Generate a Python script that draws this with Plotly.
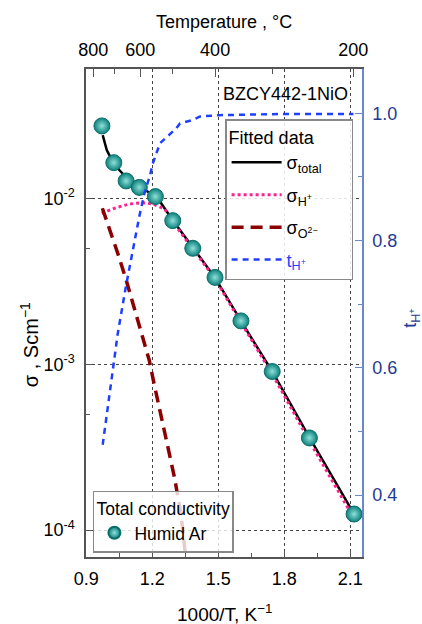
import plotly.graph_objects as go

# ---- measured data (Humid Ar, total conductivity) ----
x_data = [0.971, 1.025, 1.081, 1.141, 1.214, 1.293, 1.384, 1.485, 1.603, 1.745, 1.914, 2.117]
sigma_data = [2.75e-2, 1.65e-2, 1.28e-2, 1.17e-2, 1.03e-2, 7.37e-3, 5.02e-3, 3.35e-3,
              1.83e-3, 9.06e-4, 3.60e-4, 1.25e-4]

# ---- fitted curves ----
x_total = [0.9745, 0.993, 1.02, 1.05, 1.081, 1.126, 1.18, 1.226, 1.293, 1.384, 1.485,
           1.603, 1.745, 1.914, 2.117]
sigma_total = [0.02421, 0.01968, 0.01671, 0.01489, 0.01346, 0.01211, 0.01101, 0.01000,
               0.00741, 0.00507, 0.00334, 0.00183, 0.000906, 0.000363, 0.000125]

x_h = [0.970, 1.035, 1.096, 1.157, 1.203, 1.256, 1.293, 1.384, 1.485, 1.603, 1.745, 1.914, 2.117]
sigma_h = [0.00817, 0.00883, 0.00929, 0.00946, 0.00929, 0.00867, 0.00724, 0.00495,
           0.00329, 0.00179, 0.000875, 0.000345, 0.0001175]

x_o = [0.973, 0.997, 1.043, 1.081, 1.118, 1.156, 1.186, 1.206, 1.2245, 1.262, 1.300, 1.330, 1.353]
sigma_o = [0.00875, 0.00711, 0.00468, 0.00324, 0.00219, 0.00147, 0.00106, 0.000787,
           0.000610, 0.000366, 0.000210, 0.000126, 0.0000668]

x_t = [0.9745, 0.9895, 1.012, 1.043, 1.08, 1.111, 1.141, 1.164, 1.19, 1.202, 1.235, 1.308,
       1.326, 1.384, 1.417, 1.504, 1.6, 1.8, 2.0, 2.114]
t_h = [0.479, 0.518, 0.576, 0.654, 0.728, 0.785, 0.838, 0.874, 0.903, 0.921, 0.953, 0.976,
       0.984, 0.9895, 0.995, 0.997, 0.998, 0.999, 0.999, 0.999]

# ---- axis ticks ----
x_ticks = [0.9, 1.2, 1.5, 1.8, 2.1]
x_minor = [1.05, 1.35, 1.65, 1.95]
sigma_ticks = [1e-4, 1e-3, 1e-2]
sigma_ticktext = ["10<sup>-4</sup>", "10<sup>-3</sup>", "10<sup>-2</sup>"]
sigma_minor = [5e-4, 5e-3]
temp_major = [800, 600, 400, 200]
temp_minor = [700, 500, 300]
t_ticks = [0.4, 0.6, 0.8, 1.0]
t_minor = [0.5, 0.7, 0.9]

FONT = "Liberation Sans, Arial, sans-serif"
AX = "#555555"
RBLUE = "#6a88cc"
DBLUE = "#1f3a93"

fig = go.Figure()

fig.add_trace(go.Scatter(x=x_total, y=sigma_total, mode="lines",
                         name="σ<sub>total</sub>&nbsp;&nbsp;&nbsp;&nbsp;&nbsp;",
                         line=dict(color="black", width=2.5), legend="legend", legendgroup="a"))
fig.add_trace(go.Scatter(x=x_h, y=sigma_h, mode="lines", name="σ<sub>H<sup>+</sup></sub>",
                         line=dict(color="#ff1f8e", width=3, dash="dot"), legend="legend",
                         legendgroup="b"))
fig.add_trace(go.Scatter(x=x_o, y=sigma_o, mode="lines", name="σ<sub>O<sup>2−</sup></sub>",
                         line=dict(color="#8b0000", width=3.5, dash="12px,7px"), legend="legend",
                         legendgroup="c"))
fig.add_trace(go.Scatter(x=x_t, y=t_h, mode="lines", xaxis="x2", yaxis="y2",
                         name="<span style='color:#1f3fff'>t<sub>H<sup>+</sup></sub></span>",
                         line=dict(color="#1f3fff", width=2.5, dash="6px,5px"), legend="legend",
                         legendgroup="d"))
fig.add_trace(go.Scatter(x=x_data, y=sigma_data, mode="markers", name="Humid Ar",
                         marker=dict(size=16, color="#0b7f7a", line=dict(color="#0a6e6a", width=1),
                                     gradient=dict(type="radial", color="#8fe0da")),
                         legend="legend2"))

xr = [0.8986, 2.1532]
fig.update_layout(
    width=422, height=624,
    margin=dict(l=86, r=60, t=69, b=67),
    paper_bgcolor="white", plot_bgcolor="white",
    font=dict(family=FONT, size=18, color="black"),
    xaxis=dict(range=xr, tickvals=x_ticks, ticktext=[f"{v:.1f}" for v in x_ticks],
               ticks="inside", ticklen=6, tickcolor=AX, showline=True, linecolor=AX, linewidth=1.5,
               showgrid=True, gridcolor="#444444", griddash="dot", gridwidth=1, zeroline=False,
               minor=dict(tickvals=x_minor, ticks="inside", ticklen=4, tickcolor=AX, showgrid=False),
               tickfont=dict(size=18), ticklabelstandoff=5),
    xaxis2=dict(range=xr, overlaying="x", side="top", anchor="y",
                tickvals=[1000 / (T + 273.15) for T in temp_major], ticktext=[str(T) for T in temp_major],
                ticks="inside", ticklen=8, tickcolor=AX, showline=True, linecolor=AX, linewidth=1.5,
                showgrid=False, zeroline=False,
                minor=dict(tickvals=[1000 / (T + 273.15) for T in temp_minor], ticks="inside",
                           ticklen=5, tickcolor=AX, showgrid=False),
                tickfont=dict(size=18), ticklabelstandoff=4),
    yaxis=dict(type="log", range=[-4.1624, -1.2173], tickvals=sigma_ticks, ticktext=sigma_ticktext,
               ticks="inside", ticklen=6, tickcolor=AX, showline=True, linecolor=AX, linewidth=1.5,
               showgrid=True, gridcolor="#444444", griddash="dot", gridwidth=1, zeroline=False,
               minor=dict(tickvals=sigma_minor, ticks="inside", ticklen=4, tickcolor=AX, showgrid=False),
               tickfont=dict(size=18), ticklabelstandoff=6),
    yaxis2=dict(range=[0.3026, 1.0696], overlaying="y", side="right", anchor="x2",
                tickvals=t_ticks, ticktext=[f"{v:.1f}" for v in t_ticks],
                ticks="inside", ticklen=7, tickcolor=RBLUE, showline=True, linecolor=RBLUE, linewidth=1.5,
                showgrid=False, zeroline=False,
                minor=dict(tickvals=t_minor, ticks="inside", ticklen=4, tickcolor=RBLUE, showgrid=False),
                tickfont=dict(size=18, color=DBLUE), ticklabelstandoff=5),
    legend=dict(x=0.504, y=0.897, xanchor="left", yanchor="top",
                title=dict(text="Fitted data", font=dict(size=18)),
                bgcolor="rgba(255,255,255,0.85)", bordercolor="#888888", borderwidth=1.5,
                font=dict(size=18), itemwidth=50, tracegroupgap=6, traceorder="grouped"),
    legend2=dict(x=0.025, y=0.136, xanchor="left", yanchor="top",
                 title=dict(text="Total conductivity", font=dict(size=17.5)),
                 bgcolor="rgba(255,255,255,0.8)", bordercolor="#888888", borderwidth=1.5,
                 font=dict(size=17.5), itemsizing="constant"),
    annotations=[
        dict(text="BZCY442-1NiO", xref="paper", yref="paper", x=0.7246, y=0.9488,
             showarrow=False, font=dict(size=18), xanchor="center", yanchor="middle"),
        dict(text="Temperature , °C", xref="paper", yref="paper", x=0.5, y=1.0963,
             showarrow=False, font=dict(size=18), xanchor="center", yanchor="middle"),
        dict(text="1000/T, K<sup>−1</sup>", xref="paper", yref="paper", x=0.5, y=-0.1148,
             showarrow=False, font=dict(size=19), xanchor="center", yanchor="middle"),
        dict(text="σ , Scm<sup>−1</sup>", xref="paper", yref="paper", x=-0.205, y=0.435,
             showarrow=False, font=dict(size=20), textangle=-90, xanchor="center", yanchor="middle"),
        dict(text="t<sub>H<sup>+</sup></sub>", xref="paper", yref="paper", x=1.181, y=0.49,
             showarrow=False, font=dict(size=18, color=DBLUE), textangle=-90,
             xanchor="center", yanchor="middle"),
    ],
    showlegend=True,
)

fig.write_html("out.html")
